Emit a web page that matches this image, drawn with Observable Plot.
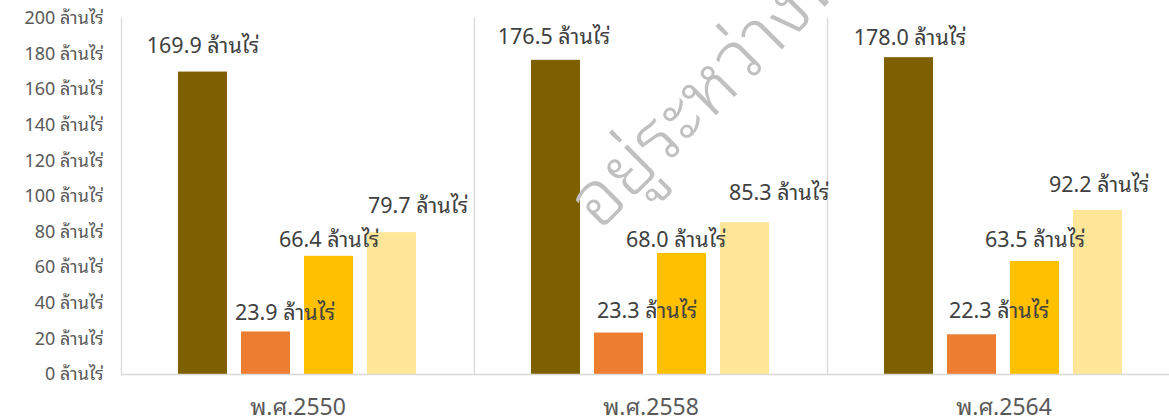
<!DOCTYPE html>
<html>
<head>
<meta charset="utf-8">
<script src="https://cdn.jsdelivr.net/npm/d3@7"></script>
<script src="https://cdn.jsdelivr.net/npm/@observablehq/plot@0.6"></script>
<style>
  html, body { margin: 0; padding: 0; background: #fff; overflow: hidden; }
  #wrap { position: relative; width: 1169px; height: 417px; overflow: hidden; }
  #chart svg { display: block; max-width: none !important; }
  #wm {
    position: absolute; left: 606px; top: 162px;
    font-family: "Noto Sans", "Noto Sans Thai Looped", sans-serif; font-size: 76px; color: #c0c0c0; font-weight: 300;
    transform-origin: 0 100%; transform: rotate(-45deg); white-space: nowrap;
    line-height: 1; pointer-events: none;
  }
</style>
</head>
<body>
<div id="wrap">
  <div id="chart"></div>
  <div id="wm">อยู่ระหว่างพิจารณา</div>
</div>
<script>
const years = ["พ.ศ.2550", "พ.ศ.2558", "พ.ศ.2564"];
const series = ["s1", "s2", "s3", "s4"];
const s1 = [169.9, 176.5, 178.0];
const s2 = [23.9, 23.3, 22.3];
const s3 = [66.4, 68.0, 63.5];
const s4 = [79.7, 85.3, 92.2];
const yTicks = [0, 20, 40, 60, 80, 100, 120, 140, 160, 180, 200];
const unit = "ล้านไร่";

const colors = ["#7F6000", "#ED7D31", "#FFC000", "#FFE699"];
// label nudges [series][year] (style only)
const labelDx = [[0, -2, 1], [19, 28, 27], [0, -6, 0], [26, 34, 1]];
const labelDy = [[-26, -23, -20], [-19, -22, -24], [-16, -13, -21], [-27, -30, -25]];

const rows = [];
[s1, s2, s3, s4].forEach((arr, si) => {
  arr.forEach((v, yi) => rows.push({year: years[yi], series: series[si], value: v, si, yi}));
});

const labelMarks = rows.map(r =>
  Plot.text([r], {
    fx: "year", x: "series", y: "value",
    text: d => `${d.value.toFixed(1)} ${unit}`,
    dy: labelDy[r.si][r.yi], dx: labelDx[r.si][r.yi],
    fontSize: 21.5, fill: "#404040", lineAnchor: "middle", textAnchor: "middle"
  })
);

const chart = Plot.plot({
  width: 1180,
  height: 417,
  marginLeft: 121,
  marginRight: 0,
  marginTop: 18,
  marginBottom: 43,
  style: {fontFamily: "'Noto Sans', 'Noto Sans Thai Looped', sans-serif", background: "transparent"},
  fx: {domain: years, padding: 0, label: null},
  x: {domain: series, paddingInner: 0.22, paddingOuter: 0.868, axis: null},
  y: {domain: [0, 200], ticks: yTicks, label: null},
  color: {domain: series, range: colors},
  marks: [
    Plot.frame({anchor: "left", stroke: "#d9d9d9", strokeWidth: 1.3}),
    Plot.axisY({ticks: yTicks, tickSize: 0, tickPadding: 18, fontSize: 18, fill: "#595959",
      tickFormat: d => `${d} ${unit}`, label: null}),
    Plot.axisFx({anchor: "bottom", tickSize: 0, tickPadding: 24, fontSize: 23, fill: "#595959", label: null}),
    Plot.barY(rows, {fx: "year", x: "series", y: "value", fill: "series"}),
    Plot.ruleY([0], {stroke: "#d9d9d9", strokeWidth: 1.5}),
    ...labelMarks
  ]
});

document.getElementById("chart").append(chart);
</script>
</body>
</html>
